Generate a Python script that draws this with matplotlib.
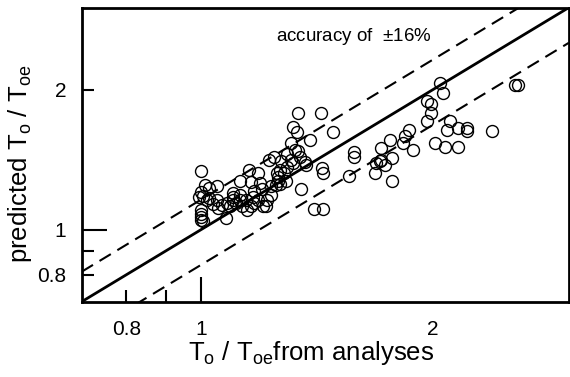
import numpy as np
import matplotlib
matplotlib.use("Agg")
import matplotlib.pyplot as plt
from matplotlib.ticker import FixedLocator, FixedFormatter, NullLocator

plt.rcParams['font.family'] = ['Liberation Sans', 'DejaVu Sans']
plt.rcParams['mathtext.fontset'] = 'custom'
plt.rcParams['mathtext.rm'] = 'Liberation Sans'
plt.rcParams['mathtext.it'] = 'Liberation Sans:italic'
plt.rcParams['lines.scale_dashes'] = False

# T_o/T_oe from analyses (x) vs predicted (y)
x_analysis = [1.000, 1.000, 0.995, 1.005, 1.013, 1.024, 1.050, 1.000, 1.000, 1.000,
              1.000, 1.005, 1.019, 1.035, 1.050, 1.053, 1.076, 1.090, 1.099, 1.099,
              1.111, 1.124, 1.124, 1.130, 1.148, 1.154, 1.161, 1.167, 1.173, 1.184,
              1.193, 1.199, 1.202, 1.215, 1.226, 1.242, 1.233, 1.253, 1.259, 1.259,
              1.266, 1.294, 1.294, 1.308, 1.308, 1.317, 1.330, 1.334, 1.337, 1.345,
              1.347, 1.367, 1.386, 1.403, 1.438, 1.431, 1.434, 1.438, 1.481, 1.557,
              1.578, 1.581, 1.682, 1.684, 1.704, 1.710, 1.714, 1.731, 1.757, 1.771,
              1.771, 1.827, 1.837, 1.859, 1.884, 1.961, 1.987, 1.989, 1.961, 2.011,
              2.040, 2.062, 2.083, 2.103, 2.072, 2.157, 2.157, 2.211, 2.211, 2.383,
              2.555, 2.580, 1.024, 1.064, 1.081, 1.124, 1.173, 1.186, 1.219, 1.232,
              1.250, 1.280, 1.287, 1.315, 1.323, 1.363, 1.142, 1.161, 1.099, 1.266,
              1.269]
y_predicted = [1.337, 1.202, 1.178, 1.182, 1.248, 1.228, 1.238, 1.104, 1.080, 1.064,
               1.051, 1.042, 1.159, 1.137, 1.155, 1.113, 1.059, 1.122, 1.198, 1.175,
               1.140, 1.159, 1.269, 1.122, 1.100, 1.340, 1.263, 1.178, 1.208, 1.322,
               1.258, 1.222, 1.122, 1.126, 1.412, 1.435, 1.188, 1.322, 1.300, 1.269,
               1.254, 1.454, 1.366, 1.532, 1.412, 1.658, 1.623, 1.777, 1.472, 1.435,
               1.220, 1.378, 1.561, 1.107, 1.107, 1.783, 1.357, 1.324, 1.618, 1.302,
               1.469, 1.435, 1.324, 1.391, 1.403, 1.498, 1.414, 1.380, 1.561, 1.426,
               1.271, 1.535, 1.587, 1.640, 1.485, 1.885, 1.863, 1.780, 1.708, 1.535,
               2.064, 1.964, 1.640, 1.708, 1.505, 1.505, 1.653, 1.653, 1.626, 1.626,
               2.047, 2.047, 1.169, 1.131, 1.140, 1.188, 1.140, 1.159, 1.159, 1.238,
               1.248, 1.322, 1.269, 1.389, 1.483, 1.400, 1.159, 1.122, 1.159, 1.344,
               1.403]

limits = [0.7, 3.0]
accuracy = 0.16
tick_vals = [0.8, 0.9, 1, 2]
tick_labels = ['0.8', '', '1', '2']

fig = plt.figure(figsize=(5.7, 3.77), dpi=100)
ax = fig.add_axes([0.1433, 0.1997, 0.8547, 0.7803])

line_x = np.array(limits)
ax.plot(line_x, line_x, color='black', lw=2.0, solid_capstyle='butt')
ax.plot(line_x, line_x * (1 + accuracy), color='black', lw=1.5, dashes=(9.5, 5.5))
ax.plot(line_x, line_x * (1 - accuracy), color='black', lw=1.5, dashes=(9.5, 5.5))

ax.plot(x_analysis, y_predicted, 'o', mfc='none', mec='black', ms=8.6, mew=1.0)

ax.set_xscale('log')
ax.set_yscale('log')
ax.set_xlim(limits)
ax.set_ylim(limits)

for axis in (ax.xaxis, ax.yaxis):
    axis.set_major_locator(FixedLocator(tick_vals))
    axis.set_major_formatter(FixedFormatter(tick_labels))
    axis.set_minor_locator(NullLocator())

ax.tick_params(direction='in', width=1.5, length=8.5, labelsize=15,
               top=False, right=False)
ax.tick_params(axis='x', pad=13)
ax.tick_params(axis='y', pad=11)

# the tick at 1 is long, the x tick at 2 is not drawn
for i, t in enumerate(ax.xaxis.get_major_ticks()):
    if tick_vals[i] == 1:
        t.tick1line.set_markersize(18)
    if tick_vals[i] == 2:
        t.tick1line.set_markersize(0)
for i, t in enumerate(ax.yaxis.get_major_ticks()):
    if tick_vals[i] == 1:
        t.tick1line.set_markersize(18)

for s in ax.spines.values():
    s.set_linewidth(2.0)

ax.set_xlabel(r'T$_\mathrm{o}$ / T$_\mathrm{oe}$from analyses', fontsize=18.5)
ax.set_ylabel(r'predicted T$_\mathrm{o}$ / T$_\mathrm{oe}$', fontsize=18.5)
ax.xaxis.set_label_coords(0.47, -0.128)
ax.yaxis.set_label_coords(-0.098, 0.47)

ax.text(0.558, 0.90, r'accuracy of  $\pm$16%', transform=ax.transAxes,
        ha='center', va='center', fontsize=13.5)

fig.savefig('out.png', dpi=100)
